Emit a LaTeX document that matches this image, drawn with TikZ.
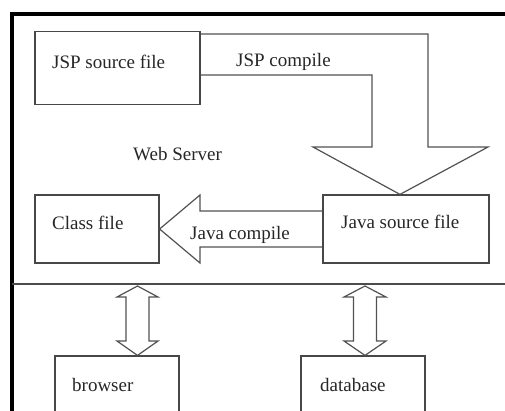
\documentclass[tikz,border=0pt]{standalone}
\usepackage{fontspec}
\setmainfont{Liberation Serif}
\begin{document}
\begin{tikzpicture}[x=1pt,y=-1pt,
  box/.style={draw=black!72, line width=1.2pt, rectangle, inner sep=0pt},
  blk/.style={draw=black!68, line width=1.2pt, line join=miter},
  lbl/.style={font=\fontsize{19}{21}\selectfont, anchor=west, inner sep=0pt, text=black!85}]
\useasboundingbox (0,0) rectangle (505,410);
\clip (0,0) rectangle (505,410);
% outer frame
\draw[line width=3.5pt] (12,430) -- (12,14) -- (515,14);
\draw[line width=1.3pt, black!70] (12,284) -- (515,284);
% boxes
\node[box, minimum width=165, minimum height=73] (jsp) at (117.5,68) {};
\node[box, minimum width=124, minimum height=68] (cls) at (97,229) {};
\node[box, minimum width=166, minimum height=68] (java) at (406,229) {};
\node[box, minimum width=124, minimum height=80] (brw) at (117,396) {};
\node[box, minimum width=124, minimum height=80] (db) at (363,396) {};
% labels
\node[lbl] (tjsp) at (52,62) {JSP source file};
\node[lbl] (tjc) at (236,62) {JSP compile};
\node[lbl] (tws) at (133,154) {Web Server};
\node[lbl] (tcls) at (52,223) {Class file};
\node[lbl] (tjava) at (341,222) {Java source file};
\node[lbl] (tjvc) at (190,235) {Java compile};
\node[lbl] (tbrw) at (72,385) {browser};
\node[lbl] (tdb) at (320,385) {database};
% JSP compile block arrow
\draw[blk] (jsp.north east |- 0,34) -- (428,34) -- (428,147) -- (488,147) -- (java.north -| 400,0)
  -- (313,147) -- (372,147) -- (372,75) -- (jsp.east |- 0,75);
% Java compile block arrow
\draw[blk] (java.west |- 0,211) -- (200,211) -- (200,195) -- (cls.east) -- (200,263) -- (200,247) -- (java.west |- 0,247);
% double arrows
\draw[blk] (137.5,286) -- (158,297) -- (149,297) -- (149,341) -- (158,341) -- (brw.north -| 137.5,0)
  -- (117,341) -- (126,341) -- (126,297) -- (117,297) -- cycle;
\draw[blk] (365,286) -- (386,297) -- (376.5,297) -- (376.5,341) -- (386,341) -- (db.north -| 365,0)
  -- (344,341) -- (353.5,341) -- (353.5,297) -- (344,297) -- cycle;
\end{tikzpicture}
\end{document}
